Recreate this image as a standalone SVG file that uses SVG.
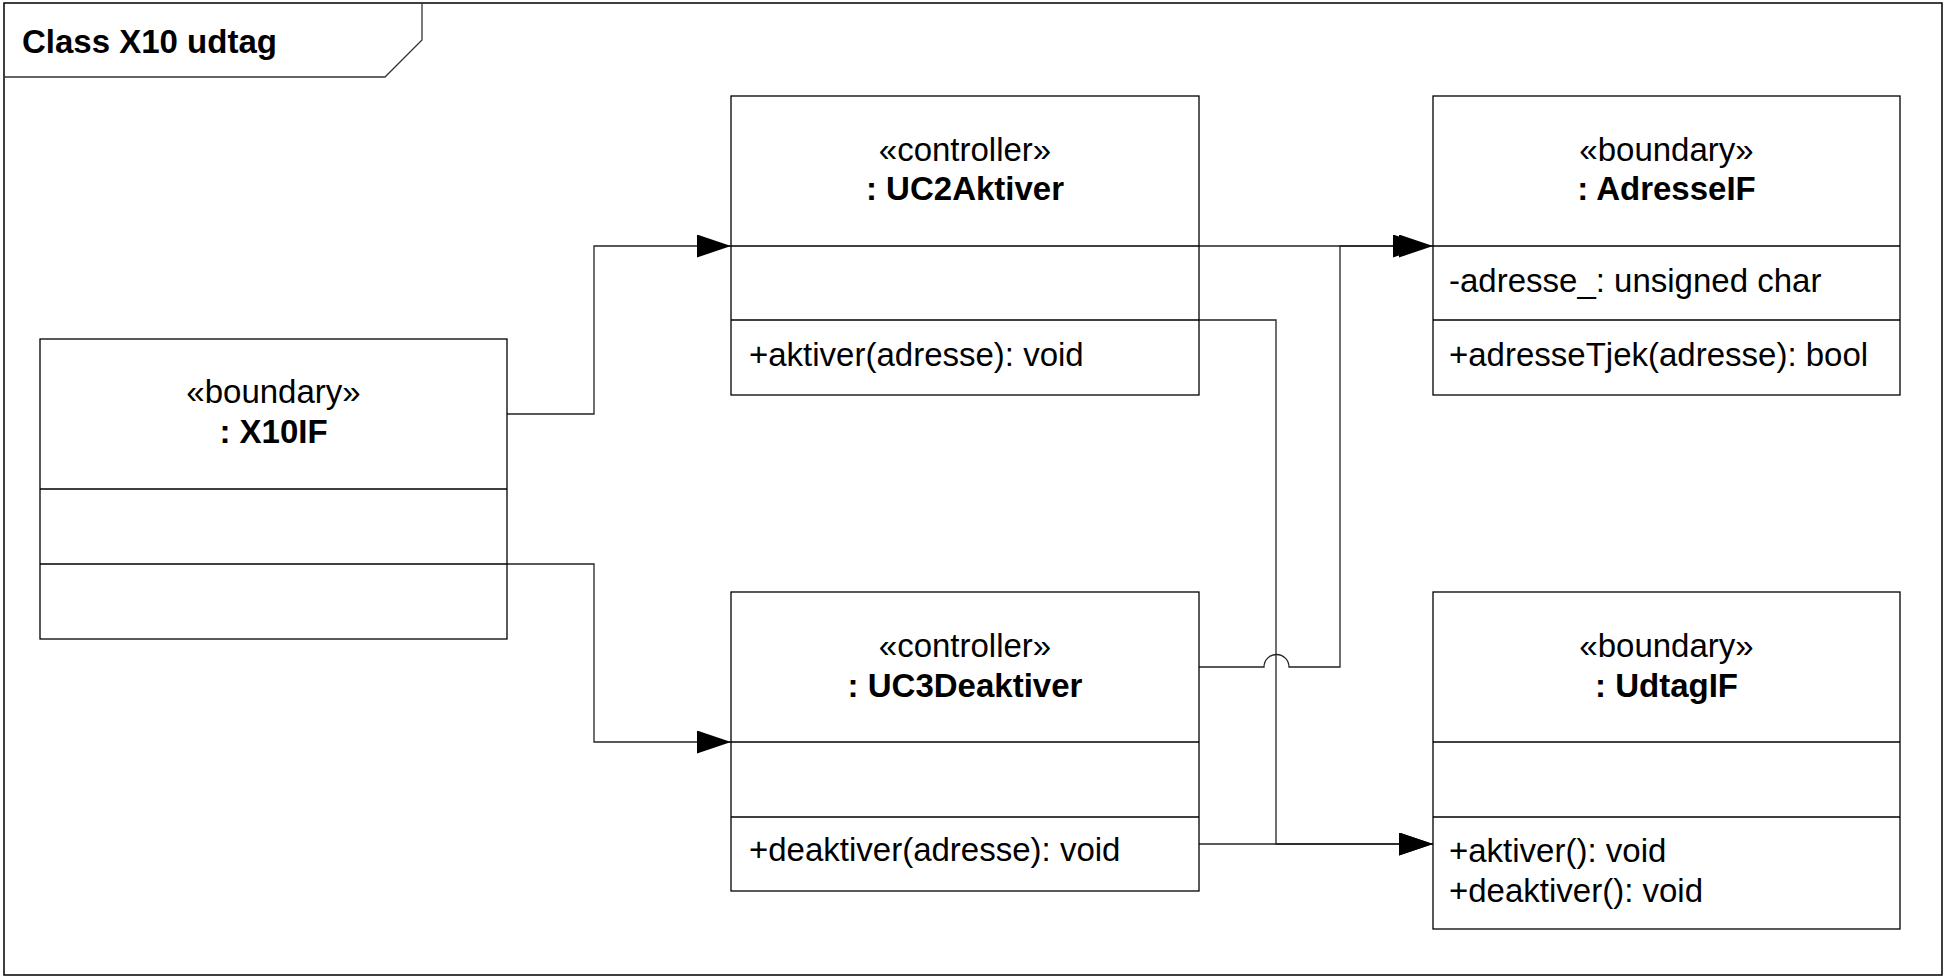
<svg xmlns="http://www.w3.org/2000/svg" width="1947" height="978" viewBox="0 0 1947 978">
<style>
  .box { fill: #ffffff; stroke: #000000; stroke-width: 1.3; }
  .div { stroke: #000000; stroke-width: 1.3; }
  .conn { fill: none; stroke: #222222; stroke-width: 1.3; }
  text { font-family: "Liberation Sans", Arial, sans-serif; font-size: 33px; fill: #000000; }
  .c { text-anchor: middle; }
  .b { font-weight: bold; }
</style>
<defs>
  <marker id="arr" markerUnits="userSpaceOnUse" markerWidth="36" markerHeight="24" refX="34" refY="11.5" orient="auto">
    <path d="M0,0 L34,11.5 L0,23 z" fill="#000000"/>
  </marker>
</defs>
<rect x="0" y="0" width="1947" height="978" fill="#ffffff"/>
<g id="frame">
  <rect x="4" y="3" width="1938" height="972" fill="none" stroke="#000000" stroke-width="1.5"/>
  <path d="M4,77 H385 L422,40 V3" fill="none" stroke="#333333" stroke-width="1.3"/>
  <text x="22" y="53" class="b">Class X10 udtag</text>
</g>
<g id="connectors">
  <path class="conn" d="M507,414 H594 V246 H731" marker-end="url(#arr)"/>
  <path class="conn" d="M507,564 H594 V742 H731" marker-end="url(#arr)"/>
  <path class="conn" d="M1199,246 H1433" marker-end="url(#arr)"/>
  <path class="conn" d="M1199,667 H1264 A12.5,12.5 0 0 1 1289,667 H1340 V246 H1427" marker-end="url(#arr)"/>
  <path class="conn" d="M1199,320 H1276 V844 H1433" marker-end="url(#arr)"/>
  <path class="conn" d="M1199,844 H1433" marker-end="url(#arr)"/>
</g>
<g id="X10IF">
  <rect class="box" x="40" y="339" width="467" height="300"/>
  <line class="div" x1="40" y1="489" x2="507" y2="489"/>
  <line class="div" x1="40" y1="564" x2="507" y2="564"/>
  <text x="273.5" y="403" class="c">«boundary»</text>
  <text x="273.5" y="443" class="c b">: X10IF</text>
</g>
<g id="UC2Aktiver">
  <rect class="box" x="731" y="96" width="468" height="299"/>
  <line class="div" x1="731" y1="246" x2="1199" y2="246"/>
  <line class="div" x1="731" y1="320" x2="1199" y2="320"/>
  <text x="965" y="161" class="c">«controller»</text>
  <text x="965" y="200" class="c b">: UC2Aktiver</text>
  <text x="749" y="366">+aktiver(adresse): void</text>
</g>
<g id="AdresseIF">
  <rect class="box" x="1433" y="96" width="467" height="299"/>
  <line class="div" x1="1433" y1="246" x2="1900" y2="246"/>
  <line class="div" x1="1433" y1="320" x2="1900" y2="320"/>
  <text x="1666.5" y="161" class="c">«boundary»</text>
  <text x="1666.5" y="200" class="c b">: AdresseIF</text>
  <text x="1449" y="292">-adresse_: unsigned char</text>
  <text x="1449" y="366">+adresseTjek(adresse): bool</text>
</g>
<g id="UC3Deaktiver">
  <rect class="box" x="731" y="592" width="468" height="299"/>
  <line class="div" x1="731" y1="742" x2="1199" y2="742"/>
  <line class="div" x1="731" y1="817" x2="1199" y2="817"/>
  <text x="965" y="657" class="c">«controller»</text>
  <text x="965" y="697" class="c b">: UC3Deaktiver</text>
  <text x="749" y="861">+deaktiver(adresse): void</text>
</g>
<g id="UdtagIF">
  <rect class="box" x="1433" y="592" width="467" height="337"/>
  <line class="div" x1="1433" y1="742" x2="1900" y2="742"/>
  <line class="div" x1="1433" y1="817" x2="1900" y2="817"/>
  <text x="1666.5" y="657" class="c">«boundary»</text>
  <text x="1666.5" y="697" class="c b">: UdtagIF</text>
  <text x="1449" y="862">+aktiver(): void</text>
  <text x="1449" y="902">+deaktiver(): void</text>
</g>
</svg>
